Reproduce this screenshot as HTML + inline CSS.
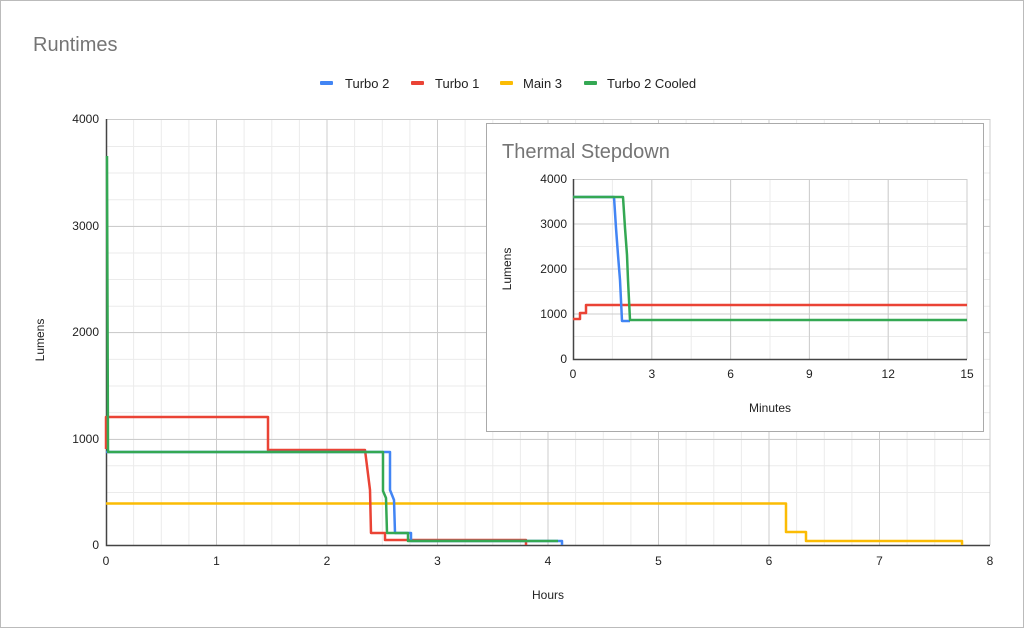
<!DOCTYPE html>
<html><head><style>
body{margin:0;background:#fff;}
svg{display:block;font-family:"Liberation Sans",Arial,sans-serif;}
</style></head><body>
<svg width="1024" height="628" xmlns="http://www.w3.org/2000/svg">
<rect x="0.5" y="0.5" width="1023" height="627" fill="#fff" stroke="#bbb"/>
<text x="33" y="51" font-size="20" fill="#757575">Runtimes</text>
<g font-size="13" fill="#222">
<rect x="320" y="81" width="13" height="4" rx="1" fill="#4285f4"/><text x="345" y="88">Turbo 2</text>
<rect x="411" y="81" width="13" height="4" rx="1" fill="#ea4335"/><text x="435" y="88">Turbo 1</text>
<rect x="500" y="81" width="13" height="4" rx="1" fill="#fbbc04"/><text x="523" y="88">Main 3</text>
<rect x="584" y="81" width="13" height="4" rx="1" fill="#34a853"/><text x="607" y="88">Turbo 2 Cooled</text>
</g>
<g stroke="#ebebeb" stroke-width="1">
<path d="M106 492.5H990M106 465.8H990M106 439.3H990M106 412.6H990M106 386H990M106 359.4H990M106 332.8H990M106 306.2H990M106 279.5H990M106 253H990M106 226.3H990M106 199.7H990M106 173H990M106 146.5H990M106 119.5H990"/>
<path d="M133.6 119V545M161.3 119V545M188.9 119V545M216.5 119V545M244.1 119V545M271.8 119V545M299.4 119V545M327 119V545M354.6 119V545M382.3 119V545M409.9 119V545M437.5 119V545M465.1 119V545M492.8 119V545M520.4 119V545M548 119V545M575.6 119V545M603.3 119V545M630.9 119V545M658.5 119V545M686.1 119V545M713.8 119V545M741.4 119V545M769 119V545M796.6 119V545M824.3 119V545M851.9 119V545M879.5 119V545M907.1 119V545M934.8 119V545M962.4 119V545M990 119V545"/>
</g>
<g stroke="#cccccc" stroke-width="1">
<path d="M106 439.5H990M106 332.5H990M106 226.5H990M106 119.5H990"/>
<path d="M216.5 119V545M327 119V545M437.5 119V545M548 119V545M658.5 119V545M769 119V545M879.5 119V545M990 119V545"/>
</g>
<path d="M106.5 119V545.5H990" fill="none" stroke="#444" stroke-width="1.5"/>
<g font-size="12" fill="#222" text-anchor="end">
<text x="99" y="549">0</text><text x="99" y="443">1000</text><text x="99" y="336">2000</text><text x="99" y="230">3000</text><text x="99" y="123">4000</text>
</g>
<g font-size="12" fill="#222" text-anchor="middle">
<text x="106" y="565">0</text><text x="216.5" y="565">1</text><text x="327" y="565">2</text><text x="437.5" y="565">3</text><text x="548" y="565">4</text><text x="658.5" y="565">5</text><text x="769" y="565">6</text><text x="879.5" y="565">7</text><text x="990" y="565">8</text>
<text x="548" y="599">Hours</text>
</g>
<text transform="translate(44,340) rotate(-90)" font-size="12" fill="#222" text-anchor="middle">Lumens</text>
<g fill="none" stroke-width="2.5" stroke-linejoin="round">
<path stroke="#fbbc04" d="M106 503.5H786V532H806V541H962V545"/>
<path stroke="#ea4335" d="M106 449V417H268V450H365L370 490L371 533H385V540H526V545"/>
<path stroke="#4285f4" d="M106 452H390V490L394 500L395 533H411V541H562V545"/>
<path stroke="#34a853" d="M107 156L108 452H383V491L386 498L387 533H408V541H558"/>
</g>
<rect x="486.5" y="123.5" width="497" height="308" fill="#fff" stroke="#aaa"/>
<text x="502" y="158" font-size="20" fill="#757575">Thermal Stepdown</text>
<g stroke="#ebebeb">
<path d="M573 336.5H967M573 314H967M573 291.5H967M573 269H967M573 246.5H967M573 224H967M573 201.5H967M573 179.5H967"/>
<path d="M612.4 179V359M651.8 179V359M691.2 179V359M730.6 179V359M770 179V359M809.4 179V359M848.8 179V359M888.2 179V359M927.6 179V359M967 179V359"/>
</g>
<g stroke="#ccc">
<path d="M573 314H967M573 269H967M573 224H967M573 179.5H967M651.8 179V359M730.6 179V359M809.4 179V359M888.2 179V359M967 179V359"/>
</g>
<path d="M573.5 179V359.5H967" fill="none" stroke="#444" stroke-width="1.5"/>
<g font-size="12" fill="#222" text-anchor="end">
<text x="567" y="363">0</text><text x="567" y="318">1000</text><text x="567" y="273">2000</text><text x="567" y="228">3000</text><text x="567" y="183">4000</text>
</g>
<g font-size="12" fill="#222" text-anchor="middle">
<text x="573" y="378">0</text><text x="651.8" y="378">3</text><text x="730.6" y="378">6</text><text x="809.4" y="378">9</text><text x="888.2" y="378">12</text><text x="967" y="378">15</text>
<text x="770" y="412">Minutes</text>
</g>
<text transform="translate(511,269) rotate(-90)" font-size="12" fill="#222" text-anchor="middle">Lumens</text>
<g fill="none" stroke-width="2.5" stroke-linejoin="round">
<path stroke="#ea4335" d="M573 319H580V313H586V305H967"/>
<path stroke="#4285f4" d="M573 197H614L616 228L618 255L620 280L622 321H630"/>
<path stroke="#34a853" d="M573 197H623L625 228L627 255L628 280L630 320H967"/>
</g>
</svg>
</body></html>
